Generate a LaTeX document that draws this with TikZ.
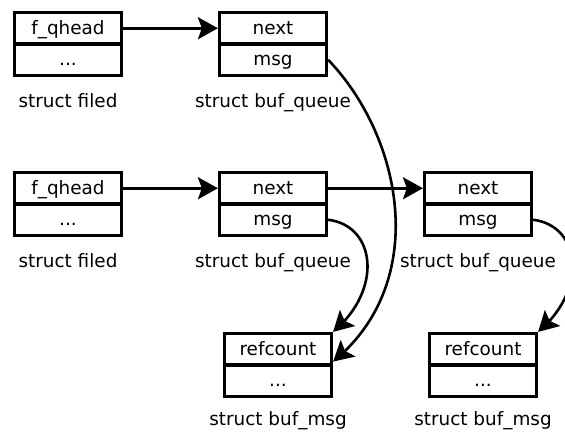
\documentclass[tikz,border=0pt]{standalone}
\usepackage{fontspec}
\setmainfont{DejaVu Sans}
\usetikzlibrary{arrows.meta,bending,calc}
\begin{document}
\begin{tikzpicture}[x=1pt,y=-1pt,
  cell/.style={draw, line width=3.2pt, minimum width=107pt, minimum height=31.5pt,
    inner sep=0pt, text height=12pt, text depth=0pt,
    font=\fontsize{18.4}{22}\selectfont},
  lbl/.style={anchor=base, inner sep=0pt, font=\fontsize{18.4}{22}\selectfont},
  ptr/.style={line width=2.6pt, -{Stealth[length=20pt,width=22pt,inset=4pt]}}]
\useasboundingbox (0,0) rectangle (565,432);
% row 1
\node[cell] (A1h) at (68,28.25) {f\_qhead};
\node[cell] (A1d) at (68,59.75) {...};
\node[lbl] (A1l) at (68,107) {struct filed};
\node[cell] (B1n) at (273,28.25) {next};
\node[cell] (B1m) at (273,59.75) {msg};
\node[lbl] (B1l) at (273,107) {struct buf\_queue};
% row 2
\node[cell] (A2h) at (68,188.25) {f\_qhead};
\node[cell] (A2d) at (68,219.75) {...};
\node[lbl] (A2l) at (68,267) {struct filed};
\node[cell] (B2n) at (273,188.25) {next};
\node[cell] (B2m) at (273,219.75) {msg};
\node[lbl] (B2l) at (273,267) {struct buf\_queue};
\node[cell] (C2n) at (478,188.25) {next};
\node[cell] (C2m) at (478,219.75) {msg};
\node[lbl] (C2l) at (478,267) {struct buf\_queue};
% row 3
\node[cell] (Dr) at (278,349.25) {refcount};
\node[cell] (Dd) at (278,380.75) {...};
\node[lbl] (Dl) at (278,425) {struct buf\_msg};
\node[cell] (Er) at (483,349.25) {refcount};
\node[cell] (Ed) at (483,380.75) {...};
\node[lbl] (El) at (483,425) {struct buf\_msg};
% pointers
\draw[ptr] (A1h.east) -- (B1n.west);
\draw[ptr] (A2h.east) -- (B2n.west);
\draw[ptr] (B2n.east) -- (C2n.west);
\coordinate (Dhit) at ([yshift=5pt]Dr.south east);
\draw[ptr] (B1m.east) .. controls ($(B1m.east)+(74,77)$) and ($(Dhit)+(98,-80)$) .. (Dhit);
\draw[ptr] (B2m.east) .. controls ($(B2m.east)+(48,6)$) and ($(Dr.north east)+(50,-42)$) .. (Dr.north east);
\draw[ptr] (C2m.east) .. controls ($(C2m.east)+(48,6)$) and ($(Er.north east)+(50,-42)$) .. (Er.north east);
\end{tikzpicture}
\end{document}
